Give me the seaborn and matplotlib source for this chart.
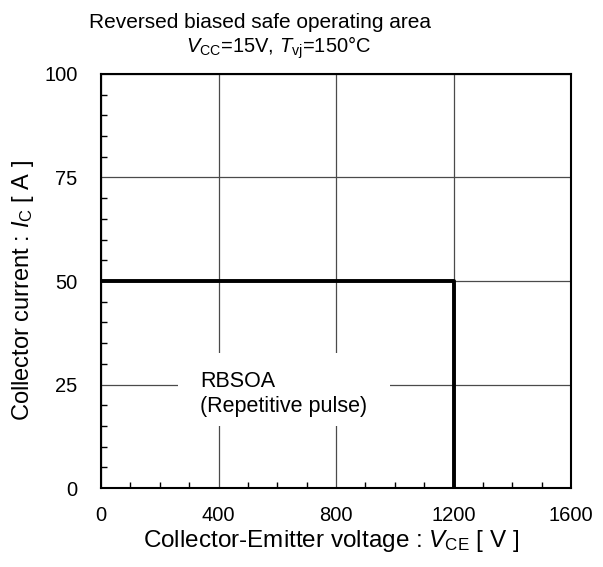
import matplotlib
matplotlib.use("Agg")
import matplotlib.pyplot as plt
import seaborn as sns
import pandas as pd
from matplotlib.patches import Rectangle
from matplotlib.ticker import MultipleLocator

# RBSOA boundary (collector-emitter voltage in V, collector current in A)
vce = [0, 1200, 1200]
ic = [50, 50, 0]
x_ticks = [0, 400, 800, 1200, 1600]
y_ticks = [0, 25, 50, 75, 100]

sns.set_theme(style="white")
plt.rcParams["font.family"] = ["Liberation Sans", "DejaVu Sans"]
plt.rcParams["mathtext.fontset"] = "custom"
plt.rcParams["mathtext.rm"] = "Liberation Sans"
plt.rcParams["mathtext.it"] = "Liberation Sans:italic"
plt.rcParams["mathtext.bf"] = "Liberation Sans:bold"

fig = plt.figure(figsize=(6.03, 5.67), dpi=100)
ax = fig.add_axes([0.1675, 0.1393, 0.7795, 0.7302])

df = pd.DataFrame({"VCE": vce, "IC": ic})
sns.lineplot(data=df, x="VCE", y="IC", sort=False, estimator=None,
             color="black", linewidth=2.8, ax=ax, zorder=4)

ax.set_xlim(0, 1600)
ax.set_ylim(0, 100)
ax.set_xticks(x_ticks)
ax.set_yticks(y_ticks)
ax.xaxis.set_minor_locator(MultipleLocator(100))
ax.yaxis.set_minor_locator(MultipleLocator(5))
ax.grid(True, which="major", color="#4a4a4a", linewidth=0.9)
ax.tick_params(which="both", direction="in", bottom=True, left=True,
               colors="black", labelsize=14.5)
ax.tick_params(which="major", length=0)
ax.tick_params(which="minor", length=4, width=1)
ax.tick_params(axis="x", pad=13)
ax.tick_params(axis="y", pad=17)
for s in ax.spines.values():
    s.set_color("black")
    s.set_linewidth(1.5)
    s.set_zorder(5)

ax.set_xlabel("Collector-Emitter voltage : $V_{\\rm CE}$ [ V ]",
              fontsize=17.5, color="black")
ax.set_ylabel("Collector current : $I_{\\rm C}$ [ A ]",
              fontsize=17, color="black")
ax.xaxis.set_label_coords(0.490, -0.097)
ax.yaxis.set_label_coords(-0.138, 0.478)

# white backing behind the annotation so the grid does not run through it
ax.add_patch(Rectangle((0.164, 0.150), 0.451, 0.176, transform=ax.transAxes,
                       facecolor="white", edgecolor="none", zorder=2.5))
ax.text(337, 22.7, "RBSOA\n(Repetitive pulse)", fontsize=15.5,
        color="black", ha="left", va="center", linespacing=1.3, zorder=3)

fig.text(0.431, 0.961, "Reversed biased safe operating area",
         fontsize=15, ha="center", va="center", color="black")
fig.text(0.462, 0.916, "$V_{\\rm CC}$=15V, $T_{\\rm vj}$=150°C",
         fontsize=14.5, ha="center", va="center", color="black")

fig.savefig("out.png", dpi=100)
